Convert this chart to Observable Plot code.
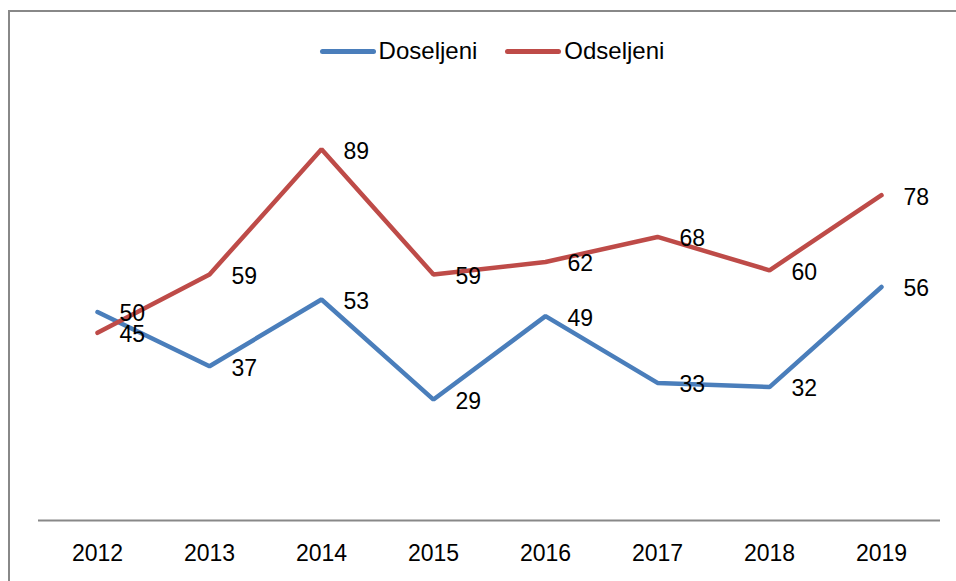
<!DOCTYPE html>
<html>
<head>
<meta charset="utf-8">
<script src="https://cdn.jsdelivr.net/npm/d3@7"></script>
<script src="https://cdn.jsdelivr.net/npm/@observablehq/plot@0.6"></script>
<style>
  html, body { margin: 0; padding: 0; background: #fff; }
  #wrap { position: relative; width: 956px; height: 581px; overflow: hidden; font-family: "Liberation Sans", Arial, sans-serif; }
  #frame { position: absolute; left: 8px; top: 10px; width: 1200px; height: 1200px; border: 2px solid #888; box-sizing: border-box; }
  #legend { position: absolute; top: 34px; left: 0; width: 956px; height: 34px; display: flex; justify-content: center; align-items: center; font-size: 24px; color: #000; padding-left: 28px; box-sizing: border-box; }
  .item { display: flex; align-items: center; margin: 0 14px; }
  .sw { width: 56px; height: 5px; border-radius: 3px; margin-right: 3px; }
  #chart { position: absolute; top: 100px; left: 0; }
</style>
</head>
<body>
<div id="wrap">
  <div id="frame"></div>
  <div id="legend"></div>
  <div id="chart"></div>
</div>
<script>
const years = ["2012", "2013", "2014", "2015", "2016", "2017", "2018", "2019"];
const doseljeni = [50, 37, 53, 29, 49, 33, 32, 56];
const odseljeni = [45, 59, 89, 59, 62, 68, 60, 78];
const seriesNames = ["Doseljeni", "Odseljeni"];
const seriesColors = ["#4A7EBB", "#BE4B48"];

const data = [];
years.forEach((y, i) => {
  data.push({year: y, value: doseljeni[i], series: seriesNames[0]});
  data.push({year: y, value: odseljeni[i], series: seriesNames[1]});
});

const legend = document.getElementById("legend");
seriesNames.forEach((s, i) => {
  const it = document.createElement("div");
  it.className = "item";
  const sw = document.createElement("div");
  sw.className = "sw";
  sw.style.background = seriesColors[i];
  const t = document.createElement("span");
  t.textContent = s;
  it.appendChild(sw);
  it.appendChild(t);
  legend.appendChild(it);
});

const chart = Plot.plot({
  width: 956,
  height: 481,
  marginLeft: 38,
  marginRight: 16,
  marginTop: 3,
  marginBottom: 61,
  style: {fontFamily: "Liberation Sans, Arial, sans-serif", fontSize: "23px", color: "#000", background: "transparent", overflow: "visible"},
  x: {type: "point", domain: years, padding: 0.5, label: null},
  y: {domain: [0, 100], axis: null},
  color: {domain: seriesNames, range: seriesColors},
  marks: [
    Plot.ruleY([0], {stroke: "#888", strokeWidth: 2}),
    Plot.axisX({tickSize: 0, tickPadding: 24, fontSize: 23, label: null}),
    Plot.line(data, {x: "year", y: "value", z: "series", stroke: "series", strokeWidth: 4.5, strokeLinejoin: "miter", strokeLinecap: "round"}),
    Plot.text(data, {x: "year", y: "value", text: d => String(d.value), textAnchor: "start", dx: 22, dy: 2, fill: "#000", fontSize: 23})
  ]
});
document.getElementById("chart").appendChild(chart);
</script>
</body>
</html>
